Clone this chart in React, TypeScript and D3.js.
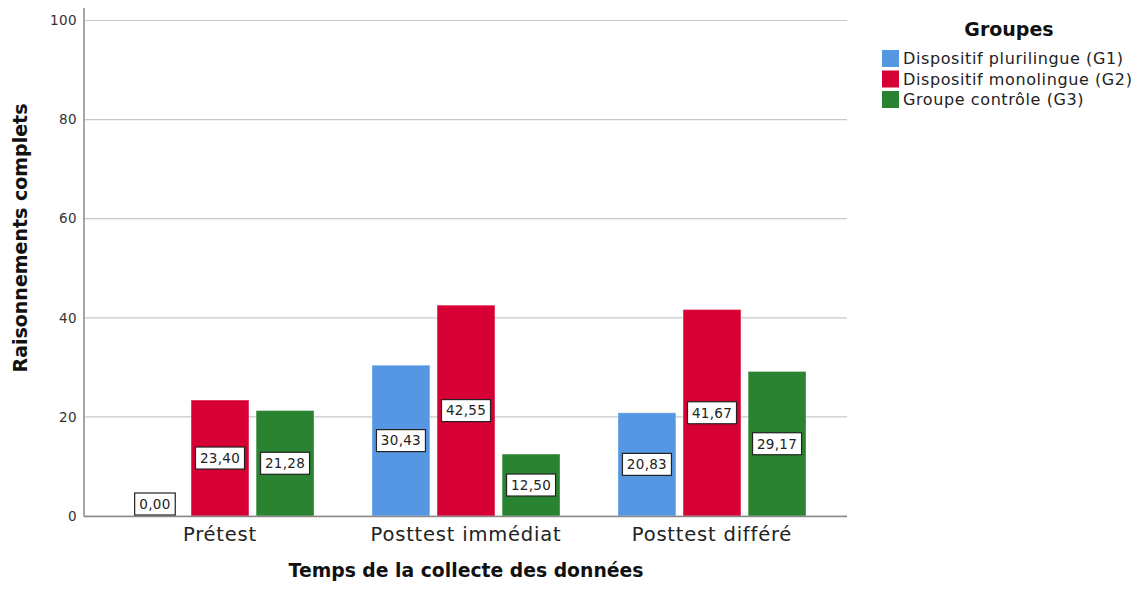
import React from "react";
import * as d3 from "d3";

const categories = ["Prétest", "Posttest immédiat", "Posttest différé"];
const groups = ["Dispositif plurilingue (G1)", "Dispositif monolingue (G2)", "Groupe contrôle (G3)"];
const g1Values = [0.0, 30.43, 20.83];
const g2Values = [23.4, 42.55, 41.67];
const g3Values = [21.28, 12.5, 29.17];
const yTicks = [0, 20, 40, 60, 80, 100];
const colors = ["#5697e4", "#d70034", "#2a8330"];
const yTitle = "Raisonnements complets";
const xTitle = "Temps de la collecte des données";
const legendTitle = "Groupes";

const W = 1143;
const H = 589;

export default function App() {
  const series = [g1Values, g2Values, g3Values];
  const plotLeft = 84;
  const plotRight = 847;
  const y = d3.scaleLinear().domain([0, 100]).range([516, 20.5]);
  const x0 = d3.scaleBand().domain(categories).range([97, 835]).padding(0);
  const bw = x0.bandwidth();
  const x1 = d3
    .scaleBand()
    .domain(groups)
    .range([bw / 2 - 94, bw / 2 + 94])
    .paddingInner(0.11);
  const fmt = (v: number) => d3.format(".2f")(v).replace(".", ",");
  const font = "'DejaVu Sans', sans-serif";

  return (
    <svg
      width={W}
      height={H}
      style={{ position: "absolute", left: 0, top: 0, display: "block", background: "#fff" }}
    >
      {/* gridlines */}
      {yTicks.map((t) => (
        <line
          key={"g" + t}
          x1={plotLeft}
          x2={plotRight}
          y1={y(t)}
          y2={y(t)}
          stroke="#c8c8c8"
          strokeWidth={1.2}
        />
      ))}
      {/* tick labels */}
      {yTicks.map((t) => (
        <text
          key={"t" + t}
          x={77}
          y={y(t)}
          dy="0.35em"
          textAnchor="end"
          fontFamily={font}
          fontSize={13.5}
          letterSpacing={0.4}
          fill="#333"
        >
          {t}
        </text>
      ))}
      {/* bars */}
      {categories.map((c, ci) => (
        <g key={c} transform={`translate(${x0(c)},0)`}>
          {groups.map((g, gi) => {
            const v = series[gi][ci];
            if (v <= 0) return null;
            return (
              <rect
                key={g}
                x={x1(g)}
                y={y(v)}
                width={x1.bandwidth()}
                height={y(0) - y(v)}
                fill={colors[gi]}
                stroke="rgba(255,255,255,0.35)"
                strokeWidth={1}
              />
            );
          })}
        </g>
      ))}
      {/* axes */}
      <line x1={plotLeft} x2={plotLeft} y1={8} y2={516.5} stroke="#8a8a8a" strokeWidth={1.5} />
      <line x1={plotLeft} x2={plotRight} y1={516.5} y2={516.5} stroke="#8a8a8a" strokeWidth={1.5} />
      {/* value labels */}
      {categories.map((c, ci) => (
        <g key={"l" + c} transform={`translate(${x0(c)},0)`}>
          {groups.map((g, gi) => {
            const v = series[gi][ci];
            const cx = (x1(g) as number) + x1.bandwidth() / 2;
            const label = fmt(v);
            const boxW = label.length * 8.4 + 7;
            const boxH = 22;
            let cy = y(v / 2);
            cy = Math.min(cy, y(0) - boxH / 2 - 1);
            return (
              <g key={g}>
                <rect
                  x={cx - boxW / 2}
                  y={cy - boxH / 2}
                  width={boxW}
                  height={boxH}
                  fill="#fff"
                  stroke="#222"
                  strokeWidth={1.2}
                />
                <text
                  x={cx}
                  y={cy}
                  dy="0.36em"
                  textAnchor="middle"
                  fontFamily={font}
                  fontSize={13.5}
                  letterSpacing={0.3}
                  fill="#222"
                >
                  {label}
                </text>
              </g>
            );
          })}
        </g>
      ))}
      {/* category labels */}
      {categories.map((c) => (
        <text
          key={"c" + c}
          x={(x0(c) as number) + bw / 2}
          y={541}
          textAnchor="middle"
          fontFamily={font}
          fontSize={19.5}
          letterSpacing={0.8}
          fill="#222"
        >
          {c}
        </text>
      ))}
      {/* axis titles */}
      <text
        x={466}
        y={577}
        textAnchor="middle"
        fontFamily={font}
        fontWeight="bold"
        fontSize={18.8}
        fill="#111"
      >
        {xTitle}
      </text>
      <text
        transform={`translate(27,${238}) rotate(-90)`}
        textAnchor="middle"
        fontFamily={font}
        fontWeight="bold"
        fontSize={19}
        fill="#111"
      >
        {yTitle}
      </text>
      {/* legend */}
      <text
        x={1009}
        y={36}
        textAnchor="middle"
        fontFamily={font}
        fontWeight="bold"
        fontSize={19}
        fill="#111"
      >
        {legendTitle}
      </text>
      {groups.map((g, gi) => (
        <g key={"lg" + g} transform={`translate(882,${50 + gi * 20.5})`}>
          <rect x={0} y={0} width={17} height={17} fill={colors[gi]} />
          <text
            x={21}
            y={8.5}
            dy="0.36em"
            fontFamily={font}
            fontSize={16}
            letterSpacing={0.6}
            fill="#222"
          >
            {g}
          </text>
        </g>
      ))}
    </svg>
  );
}
